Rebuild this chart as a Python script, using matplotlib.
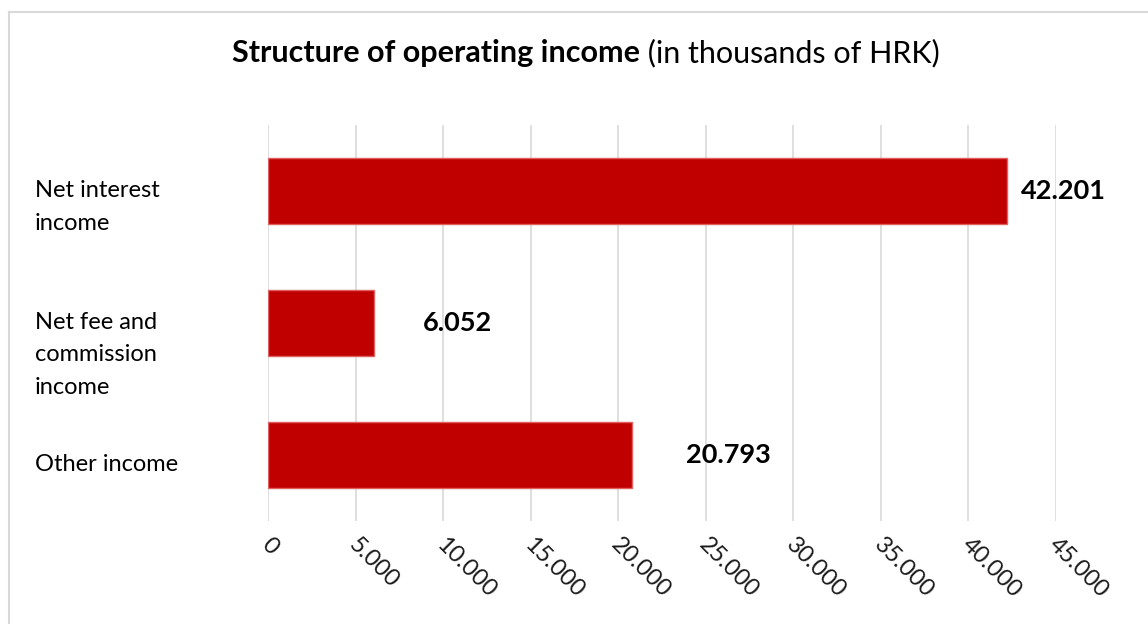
import matplotlib
matplotlib.use("Agg")
import matplotlib.pyplot as plt
import matplotlib.transforms as mtransforms
from matplotlib.lines import Line2D

categories = ["Net interest\nincome", "Net fee and\ncommission\nincome", "Other income"]
values = [42201, 6052, 20793]
value_labels = ["42.201", "6.052", "20.793"]
xticks = [0, 5000, 10000, 15000, 20000, 25000, 30000, 35000, 40000, 45000]
xtick_labels = ["0", "5.000", "10.000", "15.000", "20.000", "25.000",
                "30.000", "35.000", "40.000", "45.000"]
label_offsets = [800, 2800, 3100]          # data-label gap after bar end
cat_baseline_px = [39, 71, 16]             # last-line baseline below bar centre

FONT = "Lato"
plt.rcParams['font.family'] = [FONT, 'DejaVu Sans']

W, H = 1148, 624
fig = plt.figure(figsize=(W / 100, H / 100), dpi=100)

# outer chart border (top and left edges visible)
fig.add_artist(Line2D([9 / W, 9 / W], [0, 1 - 12 / H], transform=fig.transFigure,
                      color="#D9D9D9", lw=1.5))
fig.add_artist(Line2D([9 / W, 1], [1 - 12 / H, 1 - 12 / H], transform=fig.transFigure,
                      color="#D9D9D9", lw=1.5))

left, right, top, bottom = 268, 1056, 125, 521
ax = fig.add_axes([left / W, 1 - bottom / H, (right - left) / W, (bottom - top) / H])

ypos = list(range(len(categories)))
ax.barh(ypos, values, height=0.5, color="#C00000", edgecolor="#E06060", linewidth=1.0, zorder=3)
ax.set_xlim(0, 45000)
ax.set_ylim(len(categories) - 0.5, -0.5)

ax.set_xticks(xticks)
ax.set_xticklabels(xtick_labels)
ax.set_yticks([])
ax.grid(axis="x", color="#D9D9D9", linewidth=1.2, zorder=0)
for s in ax.spines.values():
    s.set_visible(False)
ax.tick_params(axis="x", length=0, pad=9)
offset = mtransforms.ScaledTranslation(4 / 100, 0, fig.dpi_scale_trans)
for lab in ax.get_xticklabels():
    lab.set_rotation(-45)
    lab.set_ha("left")
    lab.set_va("top")
    lab.set_rotation_mode("anchor")
    lab.set_fontsize(17)
    lab.set_color("#1a1a1a")
    lab.set_transform(lab.get_transform() + offset)

# value labels
for y, v, t, off in zip(ypos, values, value_labels, label_offsets):
    ax.text(v + off, y, t, ha="left", va="center", fontsize=19.5,
            fontweight="bold", color="#000000", clip_on=False)

# category labels
blend = mtransforms.blended_transform_factory(fig.transFigure, ax.transData)
for y, c, dy in zip(ypos, categories, cat_baseline_px):
    tr = blend + mtransforms.ScaledTranslation(0, -dy / 100, fig.dpi_scale_trans)
    fig.text(35 / W, y, c, transform=tr, ha="left", va="baseline",
             fontsize=17, linespacing=1.68, color="#000000")

# title: bold part + regular part, centred together
fig.canvas.draw()
r = fig.canvas.get_renderer()
t1 = fig.text(0, 1 - 62 / H, "Structure of operating income", fontsize=22,
              fontweight="bold", ha="left", va="baseline")
t2 = fig.text(0, 1 - 62 / H, " (in thousands of HRK)", fontsize=22,
              ha="left", va="baseline")
w1 = t1.get_window_extent(r).width
w2 = t2.get_window_extent(r).width
x0 = 586 - (w1 + w2) / 2
t1.set_x(x0 / W)
t2.set_x((x0 + w1) / W)

fig.savefig("out.png", dpi=100, facecolor="white")
